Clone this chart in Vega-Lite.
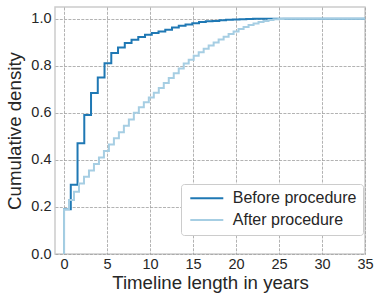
{
  "$schema": "https://vega.github.io/schema/vega-lite/v6.json",
  "width": 310,
  "height": 247,
  "autosize": {"type": "none"},
  "padding": {"left": 55, "top": 7, "right": 17, "bottom": 48},
  "background": "white",
  "datasets": {
    "cdf": [
      {"s":"Before procedure","i":0,"x":0,"y":0},
      {"s":"Before procedure","i":1,"x":0,"y":0.19},
      {"s":"Before procedure","i":2,"x":0.785,"y":0.294},
      {"s":"Before procedure","i":3,"x":1.57,"y":0.471},
      {"s":"Before procedure","i":4,"x":2.355,"y":0.591},
      {"s":"Before procedure","i":5,"x":3.14,"y":0.684},
      {"s":"Before procedure","i":6,"x":3.925,"y":0.75},
      {"s":"Before procedure","i":7,"x":4.71,"y":0.811},
      {"s":"Before procedure","i":8,"x":5.495,"y":0.854},
      {"s":"Before procedure","i":9,"x":6.28,"y":0.878},
      {"s":"Before procedure","i":10,"x":7.065,"y":0.897},
      {"s":"Before procedure","i":11,"x":7.85,"y":0.911},
      {"s":"Before procedure","i":12,"x":8.635,"y":0.922},
      {"s":"Before procedure","i":13,"x":9.42,"y":0.932},
      {"s":"Before procedure","i":14,"x":10.205,"y":0.939},
      {"s":"Before procedure","i":15,"x":10.99,"y":0.946},
      {"s":"Before procedure","i":16,"x":11.775,"y":0.953},
      {"s":"Before procedure","i":17,"x":12.56,"y":0.963},
      {"s":"Before procedure","i":18,"x":13.345,"y":0.97},
      {"s":"Before procedure","i":19,"x":14.13,"y":0.976},
      {"s":"Before procedure","i":20,"x":14.915,"y":0.981},
      {"s":"Before procedure","i":21,"x":15.7,"y":0.986},
      {"s":"Before procedure","i":22,"x":16.485,"y":0.989},
      {"s":"Before procedure","i":23,"x":17.27,"y":0.991},
      {"s":"Before procedure","i":24,"x":18.055,"y":0.994},
      {"s":"Before procedure","i":25,"x":18.84,"y":0.996},
      {"s":"Before procedure","i":26,"x":19.625,"y":0.997},
      {"s":"Before procedure","i":27,"x":20.41,"y":0.998},
      {"s":"Before procedure","i":28,"x":21.195,"y":0.999},
      {"s":"Before procedure","i":29,"x":21.98,"y":1.0},
      {"s":"Before procedure","i":30,"x":35,"y":1.0},
      {"s":"After procedure","i":0,"x":0,"y":0},
      {"s":"After procedure","i":1,"x":0,"y":0.19},
      {"s":"After procedure","i":2,"x":0.58,"y":0.23},
      {"s":"After procedure","i":3,"x":1.16,"y":0.265},
      {"s":"After procedure","i":4,"x":1.74,"y":0.3},
      {"s":"After procedure","i":5,"x":2.32,"y":0.328},
      {"s":"After procedure","i":6,"x":2.9,"y":0.355},
      {"s":"After procedure","i":7,"x":3.48,"y":0.383},
      {"s":"After procedure","i":8,"x":4.06,"y":0.41},
      {"s":"After procedure","i":9,"x":4.64,"y":0.438},
      {"s":"After procedure","i":10,"x":5.22,"y":0.465},
      {"s":"After procedure","i":11,"x":5.8,"y":0.492},
      {"s":"After procedure","i":12,"x":6.38,"y":0.518},
      {"s":"After procedure","i":13,"x":6.96,"y":0.545},
      {"s":"After procedure","i":14,"x":7.54,"y":0.572},
      {"s":"After procedure","i":15,"x":8.12,"y":0.6},
      {"s":"After procedure","i":16,"x":8.7,"y":0.624},
      {"s":"After procedure","i":17,"x":9.28,"y":0.645},
      {"s":"After procedure","i":18,"x":9.86,"y":0.665},
      {"s":"After procedure","i":19,"x":10.44,"y":0.686},
      {"s":"After procedure","i":20,"x":11.02,"y":0.706},
      {"s":"After procedure","i":21,"x":11.6,"y":0.727},
      {"s":"After procedure","i":22,"x":12.18,"y":0.748},
      {"s":"After procedure","i":23,"x":12.76,"y":0.768},
      {"s":"After procedure","i":24,"x":13.34,"y":0.789},
      {"s":"After procedure","i":25,"x":13.92,"y":0.81},
      {"s":"After procedure","i":26,"x":14.5,"y":0.826},
      {"s":"After procedure","i":27,"x":15.08,"y":0.843},
      {"s":"After procedure","i":28,"x":15.66,"y":0.858},
      {"s":"After procedure","i":29,"x":16.24,"y":0.872},
      {"s":"After procedure","i":30,"x":16.82,"y":0.886},
      {"s":"After procedure","i":31,"x":17.4,"y":0.899},
      {"s":"After procedure","i":32,"x":17.98,"y":0.912},
      {"s":"After procedure","i":33,"x":18.56,"y":0.924},
      {"s":"After procedure","i":34,"x":19.14,"y":0.935},
      {"s":"After procedure","i":35,"x":19.72,"y":0.946},
      {"s":"After procedure","i":36,"x":20.3,"y":0.956},
      {"s":"After procedure","i":37,"x":20.88,"y":0.965},
      {"s":"After procedure","i":38,"x":21.46,"y":0.973},
      {"s":"After procedure","i":39,"x":22.04,"y":0.98},
      {"s":"After procedure","i":40,"x":22.62,"y":0.986},
      {"s":"After procedure","i":41,"x":23.2,"y":0.991},
      {"s":"After procedure","i":42,"x":23.78,"y":0.995},
      {"s":"After procedure","i":43,"x":24.36,"y":0.998},
      {"s":"After procedure","i":44,"x":24.94,"y":0.999},
      {"s":"After procedure","i":45,"x":25.52,"y":1.0},
      {"s":"After procedure","i":46,"x":35,"y":1.0}
    ]
  },
  "data": {"name": "cdf"},
  "encoding": {
    "x": {
      "field": "x", "type": "quantitative",
      "scale": {"domain": [-1.05, 35], "nice": false, "zero": false},
      "axis": {"values": [0,5,10,15,20,25,30,35], "title": "Timeline length in years", "labelPadding": 3, "titlePadding": 3, "labelFlush": false}
    },
    "y": {
      "field": "y", "type": "quantitative",
      "scale": {"domain": [0, 1.05], "nice": false},
      "axis": {"values": [0,0.2,0.4,0.6,0.8,1.0], "format": ".1f", "title": "Cumulative density", "labelPadding": 4, "titlePadding": 6, "labelFlush": false}
    },
    "color": {
      "field": "s", "type": "nominal",
      "scale": {"domain": ["Before procedure", "After procedure"], "range": ["#1f78b4", "#a6cee3"]},
      "legend": {
        "title": null, "orient": "none", "legendX": 126, "legendY": 177,
        "symbolType": "M-3.3,0H3.3", "symbolSize": 100, "symbolStrokeWidth": 2, "symbolOffset": 11.5,
        "labelFontSize": 16, "labelFont": "Liberation Sans", "labelColor": "#262626",
        "labelOffset": 18, "rowPadding": 5.7, "padding": 6.3,
        "strokeColor": "#cccccc", "fillColor": "white", "cornerRadius": 3
      }
    },
    "order": {"field": "i", "type": "quantitative"}
  },
  "layer": [
    {"transform": [{"filter": "datum.s === 'Before procedure'"}], "mark": {"type": "line", "interpolate": "step-after", "strokeWidth": 2, "clip": true}},
    {"transform": [{"filter": "datum.s === 'After procedure'"}], "mark": {"type": "line", "interpolate": "step-after", "strokeWidth": 2, "clip": true}}
  ],
  "config": {
    "font": "Liberation Sans",
    "view": {"stroke": "#cccccc", "strokeWidth": 1.5},
    "axis": {
      "domain": false, "ticks": false, "grid": true,
      "gridColor": "#a0a0a0", "gridDash": [3, 1.3], "gridWidth": 0.8,
      "labelFont": "Liberation Sans", "labelFontSize": 14.5, "labelColor": "#262626",
      "titleFont": "Liberation Sans", "titleFontSize": 18.7, "titleColor": "#262626", "titleFontWeight": "normal"
    }
  }
}
